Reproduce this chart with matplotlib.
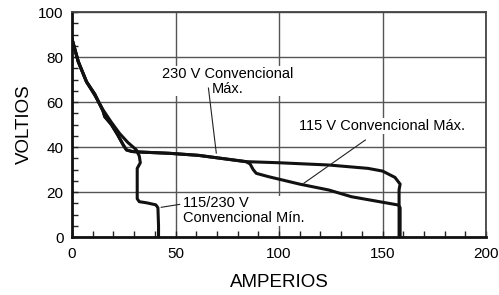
import matplotlib.pyplot as plt
from matplotlib.ticker import MultipleLocator

plt.rcParams['font.family'] = ['Liberation Sans Narrow', 'Liberation Sans', 'DejaVu Sans']

# 115/230 V Convencional Min
min_x = [0, 3, 7, 11, 15, 19, 23, 27, 31, 32.5, 33, 31.5, 31.5, 32.5, 36, 40.5, 41.5, 41.8, 41.8]
min_y = [88, 78, 69, 63, 56.5, 51, 46, 42, 38.8, 36, 33, 30.5, 17, 15.7, 15.2, 14.3, 13, 5, 0]

# 230 V Convencional Max
max230_x = [0, 3, 7, 11, 15, 15.8, 19, 22, 24.7, 26.3, 29, 32, 47, 61, 84, 100, 124, 143, 150, 156, 158.5, 158, 158]
max230_y = [88, 78, 69, 63.5, 56, 53.5, 50, 45.5, 41, 38.7, 38, 37.8, 37.2, 36.3, 33.5, 33, 32, 30.5, 29.3, 26.5, 23.5, 21, 0]

# 115 V Convencional Max
max115_x = [0, 3, 7, 11, 15, 15.8, 19, 22, 24.7, 26.3, 29, 32, 47, 61, 84, 86, 87.5, 89, 95, 110, 124, 135, 157.7, 158.5, 158.5]
max115_y = [88, 78, 69, 63.5, 56, 53.5, 50, 45.5, 41, 38.7, 38, 37.8, 37.2, 36.3, 33.5, 32.5, 30, 28.3, 26.8, 23.5, 20.9, 17.9, 14.2, 13, 0]

fig = plt.figure(figsize=(4.99, 2.95), dpi=100)
ax = fig.add_axes([0.1443, 0.1966, 0.8297, 0.7627])

ax.plot(max230_x, max230_y, color='#111111', lw=2.2, solid_joinstyle='round', zorder=3)
ax.plot(max115_x, max115_y, color='#111111', lw=2.2, solid_joinstyle='round', zorder=3)
ax.plot(min_x, min_y, color='#111111', lw=2.2, solid_joinstyle='round', zorder=3)

ax.set_xlim(0, 200)
ax.set_ylim(0, 100)
ax.xaxis.set_major_locator(MultipleLocator(50))
ax.xaxis.set_minor_locator(MultipleLocator(10))
ax.yaxis.set_major_locator(MultipleLocator(20))
ax.yaxis.set_minor_locator(MultipleLocator(5))
ax.tick_params(which='both', direction='in', length=4, width=1, color='#222222')
ax.tick_params(axis='y', which='major', labelsize=11, pad=6)
ax.tick_params(axis='x', which='major', labelsize=11, pad=7)
ax.grid(True, which='major', color='#555555', lw=1)

for s in ['left', 'bottom']:
    ax.spines[s].set_linewidth(2)
    ax.spines[s].set_color('#111111')
for s in ['top', 'right']:
    ax.spines[s].set_linewidth(1.3)
    ax.spines[s].set_color('#444444')

ax.set_xlabel('AMPERIOS', fontsize=13.5)
ax.set_ylabel('VOLTIOS', fontsize=13.5)
ax.xaxis.set_label_coords(0.5, -0.165)
ax.yaxis.set_label_coords(-0.094, 0.5)

ax.text(75.2, 69.3, '230 V Convencional\nMáx.', ha='center', va='center', fontsize=10.5,
        linespacing=1.1, bbox=dict(facecolor='white', edgecolor='none', pad=0.5), zorder=4)
ax.plot([65.9, 69.7], [66.2, 37.3], color='#222222', lw=0.8, zorder=4)

ax.text(149.8, 49.3, '115 V Convencional Máx.', ha='center', va='center', fontsize=10.5,
        bbox=dict(facecolor='white', edgecolor='none', pad=0.5), zorder=4)
ax.plot([141.7, 112], [43.1, 23.9], color='#222222', lw=0.8, zorder=4)

ax.text(53.4, 11.6, '115/230 V\nConvencional Mín.', ha='left', va='center', fontsize=10.5,
        linespacing=1.1, bbox=dict(facecolor='white', edgecolor='none', pad=0.5), zorder=4)
ax.plot([43.1, 52], [13.2, 14.5], color='#222222', lw=0.8, zorder=4)

fig.savefig('out.png', dpi=100)
